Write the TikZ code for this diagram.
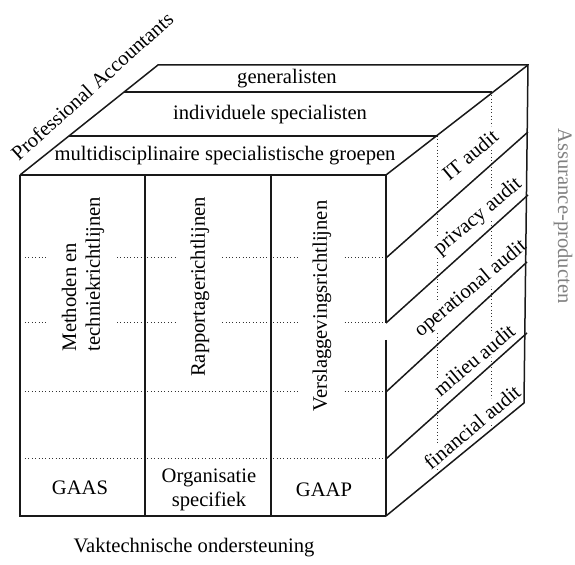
\documentclass[tikz,border=0pt]{standalone}
\usepackage{fontspec}
\setmainfont{Liberation Serif}
\usetikzlibrary{calc}

\begin{document}
\begin{tikzpicture}[x=0.5pt,y=-0.5pt,font=\fontsize{10.3}{11.8}\selectfont,
  edge/.style={line width=0.75pt,black!90},
  front/.style={line width=1.2pt,black!90},
  dots/.style={line width=0.5pt,black!80,dash pattern=on 0.5pt off 1.2pt},
  coltext/.style={rotate=90,fill=white,inner sep=6.5pt,align=left},
  sidetext/.style={rotate=40,fill=white,inner sep=1pt}]
\useasboundingbox (0,0) rectangle (575,565);
% corners of the cube
\coordinate (ftl) at (20,175);
\coordinate (ftr) at (386,175);
\coordinate (fbl) at (20,516);
\coordinate (fbr) at (386,516);
\coordinate (btl) at (158,65);
\coordinate (btr) at (528,65);
\coordinate (bbr) at (524,403);
% bands on top
\coordinate (band1l) at (124,92);
\coordinate (band1r) at (492,92);
\coordinate (band2l) at (69,136);
\coordinate (band2r) at (438,136);
% columns
\coordinate (col1t) at (145,175);
\coordinate (col1b) at (145,516);
\coordinate (col2t) at (271,175);
\coordinate (col2b) at (271,516);
% rows on the front and side
\coordinate (row1l) at (25,258);
\coordinate (row1r) at (386,258);
\coordinate (row2l) at (25,323);
\coordinate (row2r) at (386,323);
\coordinate (row3l) at (25,392);
\coordinate (row3r) at (386,392);
\coordinate (row4l) at (25,459);
\coordinate (row4r) at (386,459);
\coordinate (side1) at (528,132);
\coordinate (side2) at (528,195);
\coordinate (side3) at (527,262);
\coordinate (side4) at (527,333);
\coordinate (gapb) at (386,340);
\coordinate (deep2) at (438,472);
\coordinate (deep1) at (492,428);

% hidden lines
\draw[dots] (row1l) -- (row1r);
\draw[dots] (row2l) -- (row2r);
\draw[dots] (row3l) -- (row3r);
\draw[dots] (row4l) -- (row4r);
\draw[dots] (band2r) -- (deep2);
\draw[dots] (band1r) -- (deep1);

% labels
\node[rotate=42,inner sep=0pt] (profacc) at (92,86) {Professional Accountants};
\node (gen) at (287,79) {generalisten};
\node (indiv) at (270,115) {individuele specialisten};
\node (multi) at (225,156) {multidisciplinaire specialistische groepen};
\node[coltext] (methoden) at (83,274) {Methoden en\\techniekrichtlijnen};
\node[coltext] (rapport) at (200,287) {Rapportagerichtlijnen};
\node[coltext] (verslag) at (322,306) {Verslaggevingsrichtlijnen};
\node (gaas) at (80,488) {GAAS};
\node[align=center] (orgspec) at (209,490) {Organisatie\\specifiek};
\node (gaap) at (324,490) {GAAP};
\node[sidetext] (itaudit) at (470,155) {IT audit};
\node[sidetext] (privacy) at (478,217) {privacy audit};
\node[sidetext] (operational) at (471,289) {operational audit};
\node[sidetext] (milieu) at (474,360) {milieu audit};
\node[sidetext] (financial) at (472,427) {financial audit};
\node[rotate=-90,inner sep=0pt,text=black!50] (assurance) at (563,216) {Assurance-producten};
\node (vaktech) at (194,548) {Vaktechnische ondersteuning};

% cube
\draw[edge] (ftl) -- (btl) -- (btr) -- (bbr) -- (fbr);
\draw[edge] (ftl) -- (fbl) -- (fbr);
\draw[edge] (ftr) -- (btr);
\draw[edge] (band1l) -- (band1r);
\draw[edge] (band2l) -- (band2r);
\draw[edge] (col1t) -- (col1b);
\draw[edge] (col2t) -- (col2b);
\draw[edge] (row1r) -- (side1);
\draw[edge] (row2r) -- (side2);
\draw[edge] (row3r) -- (side3);
\draw[edge] (row4r) -- (side4);
\draw[front] (ftl) -- (ftr) -- (row2r);
\draw[front] (gapb) -- (fbr);
\end{tikzpicture}
\end{document}
